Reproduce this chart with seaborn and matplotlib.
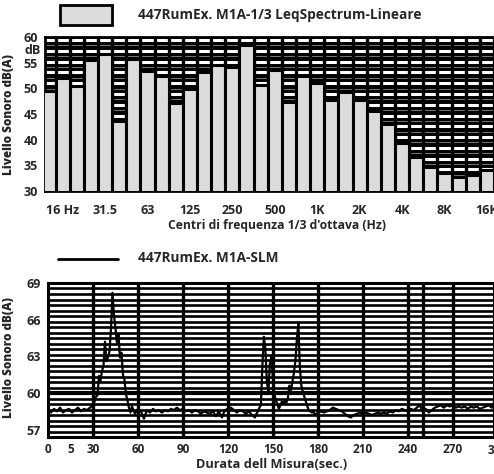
import numpy as np
import pandas as pd
import matplotlib
matplotlib.use("Agg")
import matplotlib.pyplot as plt
from matplotlib.patches import Rectangle
from matplotlib.lines import Line2D
import seaborn as sns

# ---------------- data ----------------
freq_bands = ["12.5", "16 Hz", "20", "25", "31.5", "40", "50", "63", "80", "100",
              "125", "160", "200", "250", "315", "400", "500", "630", "800", "1K",
              "1.25K", "1.6K", "2K", "2.5K", "3.15K", "4K", "5K", "6.3K", "8K",
              "10K", "12.5K", "16K"]
leq_db = [49.5, 52.0, 50.4, 55.5, 56.7, 43.6, 55.7, 53.4, 52.5, 47.2,
          49.8, 53.1, 54.6, 54.1, 58.4, 50.6, 53.6, 47.3, 52.4, 51.0,
          47.7, 49.2, 47.8, 45.5, 43.1, 39.3, 36.7, 34.6, 33.6, 32.7,
          33.1, 34.1]
shown_freq_labels = ["16 Hz", "31.5", "63", "125", "250", "500", "1K", "2K", "4K", "8K", "16K"]
spec_yticks = [30, 35, 40, 45, 50, 55, 60]

seconds = np.concatenate([np.arange(0, 30, 2), np.arange(30, 57, 1),
                          np.arange(58, 138, 2), np.arange(138, 181, 1),
                          np.arange(182, 299, 2)])
slm_level = [
    # 0..28
    58.6, 58.4, 58.7, 58.5, 58.8, 58.4, 58.6, 58.7, 58.4, 58.6, 58.8, 58.5, 58.7, 58.6, 58.8,
    # 30..56
    59.0, 59.3, 59.7, 59.8, 61.4, 61.0, 61.8, 62.2, 64.2, 62.6, 62.9, 63.4, 65.2, 68.2,
    66.4, 65.3, 64.1, 64.8, 62.9, 63.3, 61.5, 61.1, 59.9, 59.4, 58.8, 58.4, 58.9,
    # 58..136
    58.3, 58.7, 58.5, 57.9, 58.6, 58.4, 58.7, 58.5, 58.6, 58.4, 58.6, 58.5, 58.7, 58.6,
    58.8, 58.6, 58.7, 58.5, 58.6, 58.4, 58.6, 58.5, 58.3, 58.5, 58.4, 58.3, 58.5, 58.1,
    58.5, 58.0, 58.6, 58.7, 58.8, 58.6, 58.4, 58.6, 58.5, 58.3, 58.5, 58.2,
    # 138..180
    58.0, 58.3, 58.5, 58.8, 59.0, 62.2, 64.6, 63.6, 60.9, 60.1, 62.4, 63.0, 61.2, 59.9,
    59.4, 59.1, 58.7, 59.0, 59.3, 59.1, 59.4, 59.2, 59.6, 60.6, 60.2, 60.9, 61.6, 62.6,
    64.4, 65.7, 62.1, 60.6, 60.1, 59.7, 59.3, 58.9, 58.6, 58.5, 58.4, 58.5, 58.2, 58.3, 58.4,
    # 182..298
    58.5, 58.4, 58.5, 58.6, 58.8, 58.7, 58.6, 58.5, 58.3, 58.1, 58.0, 58.2, 58.3, 58.4,
    58.3, 58.4, 58.3, 58.2, 58.3, 58.4, 58.3, 58.4, 58.3, 58.5, 58.4, 58.6, 58.5, 58.7,
    58.6, 58.5, 58.7, 58.6, 58.8, 59.0, 58.5, 58.7, 58.4, 58.6, 58.8, 58.9, 59.0, 58.8,
    59.0, 58.9, 59.0, 58.8, 58.9, 58.8, 58.9, 58.7, 58.9, 58.8, 58.9, 58.7, 58.8, 58.9,
    59.0, 58.8, 59.4,
]
time_ticks = [0, 15, 30, 60, 90, 120, 150, 180, 210, 240, 270]
time_ticklabels = ["0", "5", "30", "60", "90", "120", "150", "180", "210", "240", "270"]
slm_yticks = [57, 60, 63, 66, 69]

legend_spec = "447RumEx. M1A-1/3 LeqSpectrum-Lineare"
legend_slm = "447RumEx. M1A-SLM"
xlabel_spec = "Centri di frequenza 1/3 d'ottava (Hz)"
xlabel_slm = "Durata dell Misura(sec.)"
ylabel = "Livello Sonoro dB(A)"

# ---------------- style ----------------
sns.set_style("white")
plt.rcParams['font.family'] = ['Open Sans', 'DejaVu Sans']
plt.rcParams['font.weight'] = 'bold'

W, H = 494, 474
fig = plt.figure(figsize=(W / 100, H / 100), dpi=100)

def fx(px):
    return px / W

def fy(py):
    return 1 - py / H

# ---------------- top: spectrum ----------------
ax1 = fig.add_axes([fx(45), fy(191), fx(494 - 45), (191 - 37) / H])
ax1.set_facecolor("black")
spec_df = pd.DataFrame({"band": freq_bands, "leq": leq_db})
sns.barplot(data=spec_df, x="band", y="leq", order=freq_bands, ax=ax1,
            color="#dcdcdc", saturation=1, width=1.0, edgecolor="black",
            linewidth=2.2, zorder=3)
ax1.set_xlim(-0.25, len(freq_bands) - 0.5)
ax1.set_ylim(30, 60)
for yv in np.arange(59.4, 30, -2.1):
    ax1.axhline(yv, color="white", lw=2.2, zorder=1)
    ax1.axhline(yv - 1.05, color="#777777", lw=0.7, zorder=1)
for xv in np.arange(-0.5, len(freq_bands), 1.0):
    ax1.axvline(xv, color="black", lw=2.4, zorder=2)
ax1.set_yticks(spec_yticks)
ax1.set_yticklabels([str(v) for v in spec_yticks], fontsize=9, fontweight="bold")
tick_pos = [freq_bands.index(l) for l in shown_freq_labels]
ax1.set_xticks(tick_pos)
ax1.set_xticklabels(shown_freq_labels, fontsize=9, fontweight="bold")
ax1.tick_params(axis="both", length=3, width=1.5, color="black", pad=2, direction="out")
ax1.tick_params(axis="x", pad=6)
ax1.set_xlabel("")
ax1.set_ylabel("")
for s in ax1.spines.values():
    s.set_color("black")
    s.set_linewidth(2)
fig.text(fx(277), fy(225), xlabel_spec, fontsize=8.7, fontweight="bold",
         ha="center", va="center")
fig.text(fx(41), fy(50), "dB", fontsize=9, fontweight="bold", ha="right", va="center")

# legend top
fig.add_artist(Rectangle((fx(60), fy(25)), fx(52), 20 / H, transform=fig.transFigure,
                         facecolor="#dcdcdc", edgecolor="black", linewidth=2))
fig.text(fx(138), fy(15), legend_spec, fontsize=9.8, fontweight="bold", va="center")

# ---------------- bottom: SLM ----------------
ax2 = fig.add_axes([fx(48), fy(437), fx(494 - 48), (437 - 283) / H])
ax2.set_facecolor("white")
slm_df = pd.DataFrame({"t": seconds, "lev": slm_level})
sns.lineplot(data=slm_df, x="t", y="lev", ax=ax2, color="black", lw=1.6, zorder=4)
ax2.set_xlim(0, 297.5)
ax2.set_ylim(56.4, 69)
for yv in np.arange(69, 56.4, -0.45):
    ax2.axhline(yv, color="black", lw=1.9, zorder=1)
ax2.axhline(60, color="black", lw=3, zorder=1)
for xv in [30, 60, 90, 120, 150, 180, 210, 240, 250, 270]:
    ax2.axvline(xv, color="black", lw=2.4, zorder=2)
ax2.set_xticks(time_ticks)
ax2.set_xticklabels(time_ticklabels, fontsize=8.5, fontweight="bold")
ax2.text(300, -0.045, "300", transform=ax2.get_xaxis_transform(), fontsize=8.5,
         fontweight="bold", ha="center", va="top", clip_on=False)
ax2.set_yticks(slm_yticks)
ax2.set_yticklabels([str(v) for v in slm_yticks], fontsize=9, fontweight="bold")
ax2.tick_params(axis="both", length=3, width=1.5, color="black", pad=2, direction="out")
ax2.tick_params(axis="x", pad=1.5)
ax2.set_xlabel("")
ax2.set_ylabel("")
for s in ax2.spines.values():
    s.set_color("black")
    s.set_linewidth(2.2)
fig.text(fx(272), fy(465), xlabel_slm, fontsize=9.2, fontweight="bold",
         ha="center", va="center")

# legend bottom
fig.add_artist(Line2D([fx(58), fx(118)], [fy(259), fy(259)], transform=fig.transFigure,
                      color="black", lw=2))
fig.text(fx(138), fy(258), legend_slm, fontsize=9.8, fontweight="bold", va="center")

# y labels
fig.text(fx(9), fy(115), ylabel, rotation=90, fontsize=8.5, fontweight="heavy",
         ha="center", va="center")
fig.text(fx(9), fy(358), ylabel, rotation=90, fontsize=8.5, fontweight="heavy",
         ha="center", va="center")

fig.savefig("out.png", dpi=100)
